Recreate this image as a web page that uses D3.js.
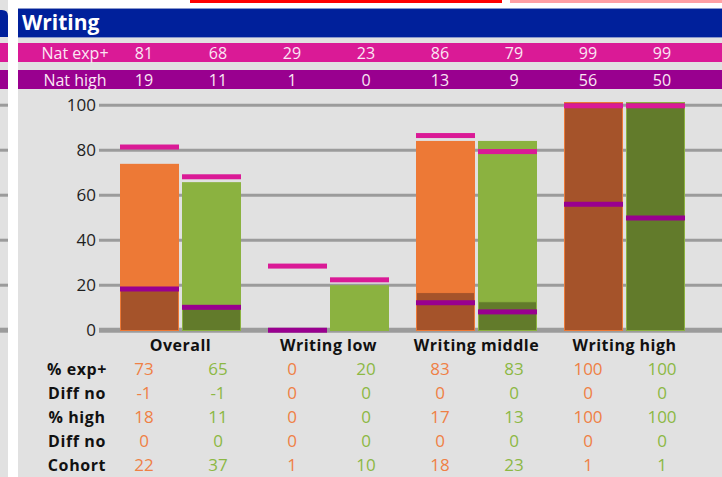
<!DOCTYPE html>
<html>
<head>
<meta charset="utf-8">
<script src="https://cdn.jsdelivr.net/npm/d3@7"></script>
<style>
  body { margin: 0; background: #fff; }
  svg { display: block; font-family: "Open Sans", sans-serif; }
</style>
</head>
<body>
<script>
// categories and series
var categories = ['Overall', 'Writing low', 'Writing middle', 'Writing high'];
var expSchool = [73, 0, 83, 100];
var expComp = [65, 20, 83, 100];
var highSchool = [18, 0, 17, 100];
var highComp = [11, 0, 13, 100];
var natExp = [81, 68, 29, 23, 86, 79, 99, 99];
var natHigh = [19, 11, 1, 0, 13, 9, 56, 50];
var diffExp = [-1, -1, 0, 0, 0, 0, 0, 0];
var diffHigh = [0, 0, 0, 0, 0, 0, 0, 0];
var cohort = [22, 37, 1, 10, 18, 23, 1, 1];
var yTicks = [0, 20, 40, 60, 80, 100];

var width = 722, height = 477;
var pink = '#da1a96', purple = '#99008f', blue = '#00209b';
var colors = {
  school: { light: '#ed7936', dark: '#a5532a', text: '#ef8045' },
  comp: { light: '#8bb240', dark: '#627b2b', text: '#8cb844' }
};

var svg = d3.select('body').append('svg')
  .attr('width', width)
  .attr('height', height);

svg.append('rect').attr('width', width).attr('height', height).attr('fill', '#fff');
// left strip (neighbouring panel) and main panel
svg.append('rect').attr('x', 0).attr('y', 0).attr('width', 8).attr('height', height).attr('fill', '#e1e1e1');
svg.append('rect').attr('x', 18).attr('y', 8).attr('width', width - 18).attr('height', height - 8).attr('fill', '#e1e1e1');

// top lines
svg.append('rect').attr('x', 190).attr('y', 0).attr('width', 312).attr('height', 3).attr('fill', '#ff0000');
svg.append('rect').attr('x', 510).attr('y', 0).attr('width', 212).attr('height', 3).attr('fill', '#ffa0a4');

// title bar
svg.append('path').attr('d', 'M0,10 L2,10 Q8,10 8,16 L8,37 L0,37 Z').attr('fill', blue);
svg.append('rect').attr('x', 18).attr('y', 8).attr('width', width - 18).attr('height', 30).attr('fill', '#8a98cc');
svg.append('rect').attr('x', 18).attr('y', 9).attr('width', width - 18).attr('height', 28).attr('fill', blue);
svg.append('text').attr('x', 22).attr('y', 30)
  .attr('fill', '#fff').attr('font-weight', 'bold').attr('font-size', 21)
  .text('Writing');

var col = d3.scalePoint().domain(d3.range(8)).range([144, 662]);

// national rows
var natRows = [
  { label: 'Nat exp+', values: natExp, y: 43, fill: pink },
  { label: 'Nat high', values: natHigh, y: 70, fill: purple }
];
natRows.forEach(function(r) {
  svg.append('rect').attr('x', 0).attr('y', r.y).attr('width', 8).attr('height', 19).attr('fill', r.fill);
  svg.append('rect').attr('x', 18).attr('y', r.y).attr('width', width - 18).attr('height', 19).attr('fill', r.fill);
  var g = svg.append('g').attr('fill', '#fbe6f4').attr('font-size', 16).attr('text-anchor', 'middle');
  g.append('text').attr('x', 75).attr('y', r.y + 15.5).text(r.label);
  g.selectAll('text.v').data(r.values).enter().append('text')
    .attr('class', 'v')
    .attr('x', function(d, i) { return col(i); })
    .attr('y', r.y + 15.5)
    .text(function(d) { return d; });
});

// scales: the axis and the bars sit on slightly different scales in the original
var y = d3.scaleLinear().domain([0, 100]).range([330.2, 105.2]);
var yBar = d3.scaleLinear().domain([0, 100]).range([331, 102]);
var x0 = d3.scaleBand().domain(categories).range([106.5, 698.5]);
var x1 = d3.scaleBand().domain(['school', 'comp']).range([13.5, 134.5]).paddingInner(3 / 62);

// gridlines
svg.append('g').selectAll('line').data(yTicks).enter().append('line')
  .attr('x1', 99).attr('x2', width)
  .attr('y1', function(d) { return y(d); }).attr('y2', function(d) { return y(d); })
  .attr('stroke', '#9b9b9b').attr('stroke-width', function(d) { return d === 0 ? 5 : 3; });
svg.append('g').selectAll('line').data(yTicks).enter().append('line')
  .attr('x1', 0).attr('x2', 8)
  .attr('y1', function(d) { return y(d); }).attr('y2', function(d) { return y(d); })
  .attr('stroke', '#9b9b9b').attr('stroke-width', function(d) { return d === 0 ? 5 : 3; });

var yAxis = svg.append('g').attr('transform', 'translate(99,0)')
  .call(d3.axisLeft(y).tickValues(yTicks).tickSize(0).tickPadding(3));
yAxis.select('.domain').remove();
yAxis.selectAll('text').attr('font-size', 17).attr('fill', '#1e1e1e')
  .attr('font-family', '"Open Sans", sans-serif');

// bars
var bars = [];
categories.forEach(function(c, i) {
  bars.push({ cat: c, key: 'school', exp: expSchool[i], high: highSchool[i], nExp: natExp[i * 2], nHigh: natHigh[i * 2] });
  bars.push({ cat: c, key: 'comp', exp: expComp[i], high: highComp[i], nExp: natExp[i * 2 + 1], nHigh: natHigh[i * 2 + 1] });
});

var bg = svg.append('g').selectAll('g').data(bars).enter().append('g')
  .attr('transform', function(d) { return 'translate(' + (x0(d.cat) + x1(d.key)) + ',0)'; });

bg.filter(function(d) { return d.exp > 0; }).append('rect')
  .attr('width', x1.bandwidth())
  .attr('y', function(d) { return yBar(d.exp); })
  .attr('height', function(d) { return yBar(0) - yBar(d.exp); })
  .attr('fill', function(d) { return colors[d.key].light; });

bg.filter(function(d) { return d.high > 0; }).append('rect')
  .attr('x', 0.5)
  .attr('width', x1.bandwidth() - 1)
  .attr('y', function(d) { return yBar(d.high) + 0.5; })
  .attr('height', function(d) { return yBar(0) - yBar(d.high) - 1; })
  .attr('fill', function(d) { return colors[d.key].dark; })
  .attr('stroke', function(d) { return colors[d.key].light; })
  .attr('stroke-width', 1);

// national markers
bg.filter(function(d) { return d.nExp > 0; }).append('rect')
  .attr('width', x1.bandwidth())
  .attr('y', function(d) { return yBar(d.nExp) - 1; })
  .attr('height', 5)
  .attr('fill', pink);
bg.filter(function(d) { return d.nHigh > 0; }).append('rect')
  .attr('width', x1.bandwidth())
  .attr('y', function(d) { return yBar(d.nHigh) - 1; })
  .attr('height', 5)
  .attr('fill', purple);

// category labels
svg.append('g').selectAll('text').data(categories).enter().append('text')
  .attr('x', function(d) { return x0(d) + x0.bandwidth() / 2; })
  .attr('y', 351)
  .attr('text-anchor', 'middle')
  .attr('font-weight', 'bold').attr('font-size', 16).attr('fill', '#111')
  .attr('letter-spacing', 0.5)
  .text(function(d) { return d; });

// table
var tableRows = [
  { label: '% exp+', values: [73, 65, 0, 20, 83, 83, 100, 100] },
  { label: 'Diff no', values: diffExp },
  { label: '% high', values: [18, 11, 0, 0, 17, 13, 100, 100] },
  { label: 'Diff no', values: diffHigh },
  { label: 'Cohort', values: cohort }
];
var rowY = d3.scalePoint().domain(d3.range(tableRows.length)).range([375, 471]);

var tr = svg.append('g').selectAll('g').data(tableRows).enter().append('g')
  .attr('transform', function(d, i) { return 'translate(0,' + rowY(i) + ')'; });
tr.append('text')
  .attr('x', 77).attr('text-anchor', 'middle')
  .attr('font-weight', 'bold').attr('font-size', 16).attr('fill', '#111')
  .attr('letter-spacing', 0.6)
  .text(function(d) { return d.label; });
tr.selectAll('text.v').data(function(d) { return d.values; }).enter().append('text')
  .attr('class', 'v')
  .attr('x', function(d, i) { return col(i); })
  .attr('text-anchor', 'middle')
  .attr('font-size', 17)
  .attr('fill', function(d, i) { return i % 2 === 0 ? colors.school.text : colors.comp.text; })
  .text(function(d) { return d; });
</script>
</body>
</html>
